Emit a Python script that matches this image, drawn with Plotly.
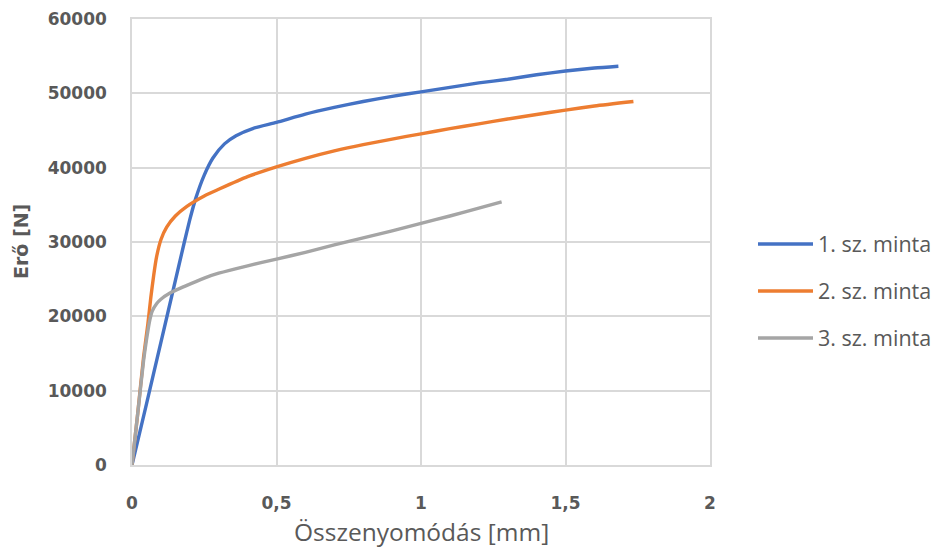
import plotly.graph_objects as go

# Compression test: force [N] versus deformation [mm] for three samples
x_minta1 = [0, 0.05, 0.10, 0.15, 0.18, 0.20, 0.22, 0.25, 0.28, 0.32, 0.36, 0.42, 0.50,
            0.60, 0.70, 0.80, 0.90, 1.00, 1.10, 1.20, 1.30, 1.40, 1.50, 1.60, 1.683]
y_minta1 = [0, 8200, 16500, 24800, 29800, 33000, 35800, 39000, 41300, 43200, 44300, 45300, 46100,
            47200, 48100, 48900, 49600, 50200, 50800, 51400, 51900, 52500, 53000, 53400, 53650]

x_minta2 = [0, 0.02, 0.04, 0.055, 0.065, 0.075, 0.085, 0.10, 0.12, 0.15, 0.19, 0.25, 0.30,
            0.40, 0.50, 0.60, 0.70, 0.80, 0.90, 1.00, 1.10, 1.20, 1.30, 1.40, 1.50, 1.60, 1.735]
y_minta2 = [0, 7000, 14500, 19000, 22500, 25500, 28000, 30300, 32000, 33500, 34800, 36200, 37100,
            38800, 40100, 41250, 42250, 43100, 43850, 44550, 45250, 45900, 46550, 47150, 47750, 48300, 48900]

x_minta3 = [0, 0.02, 0.04, 0.05, 0.06, 0.07, 0.085, 0.10, 0.13, 0.18, 0.25, 0.30, 0.40, 0.50,
            0.60, 0.70, 0.80, 0.90, 1.00, 1.10, 1.20, 1.279]
y_minta3 = [0, 7000, 14000, 16800, 19200, 20700, 21700, 22300, 23100, 24000, 25150, 25800, 26800, 27700,
            28600, 29600, 30550, 31500, 32500, 33500, 34550, 35400]

series_names = ["1. sz. minta", "2. sz. minta", "3. sz. minta"]
series_colors = ["#4472C4", "#ED7D31", "#A5A5A5"]

x_ticks = [0, 0.5, 1, 1.5, 2]
x_tick_labels = ["0", "0,5", "1", "1,5", "2"]
y_ticks = [0, 10000, 20000, 30000, 40000, 50000, 60000]
y_tick_labels = ["0", "10000", "20000", "30000", "40000", "50000", "60000"]

x_title = "Összenyomódás [mm]"
y_title = "Erő [N]"

fig = go.Figure()
for name, color, xs, ys in zip(series_names, series_colors,
                               [x_minta1, x_minta2, x_minta3],
                               [y_minta1, y_minta2, y_minta3]):
    fig.add_trace(go.Scatter(
        x=xs, y=ys, mode="lines", name=name, legendgroup=name,
        line=dict(color=color, width=3.4, shape="spline", smoothing=0.6),
    ))

grid_col = "#D9D9D9"
text_col = "#595959"
tick_font = dict(family="DejaVu Sans", size=17, color=text_col, weight="bold")

fig.update_layout(
    width=936, height=551,
    margin=dict(l=132, r=226, t=19, b=86, autoexpand=False),
    paper_bgcolor="white", plot_bgcolor="white",
    showlegend=True,
    legend=dict(
        x=1.0744, xanchor="left", xref="paper", y=0.39, yanchor="middle",
        font=dict(family="Open Sans", size=21.5, color=text_col),
        itemwidth=55, tracegroupgap=16, bgcolor="rgba(0,0,0,0)",
    ),
    xaxis=dict(
        range=[0, 2], tickvals=x_ticks, ticktext=x_tick_labels,
        showgrid=True, gridcolor=grid_col, gridwidth=1.5,
        showline=True, linecolor=grid_col, linewidth=1.5, mirror=True,
        zeroline=False, ticks="", ticklabelstandoff=22,
        tickfont=tick_font,
    ),
    yaxis=dict(
        range=[0, 60000], tickvals=y_ticks, ticktext=y_tick_labels,
        showgrid=True, gridcolor=grid_col, gridwidth=1.5,
        showline=True, linecolor=grid_col, linewidth=1.5, mirror=True,
        zeroline=False, ticks="", ticklabelstandoff=20,
        tickfont=tick_font,
    ),
    annotations=[
        dict(text=x_title, xref="paper", yref="paper", x=0.5, y=-0.150,
             xanchor="center", yanchor="middle", showarrow=False,
             font=dict(family="Open Sans", size=24.5, color=text_col)),
        dict(text=y_title, xref="paper", yref="paper", x=-0.192, y=0.5,
             xanchor="center", yanchor="middle", showarrow=False, textangle=-90,
             font=dict(family="DejaVu Sans", size=19, color=text_col, weight="bold")),
    ],
)

fig.write_html("out.html")
